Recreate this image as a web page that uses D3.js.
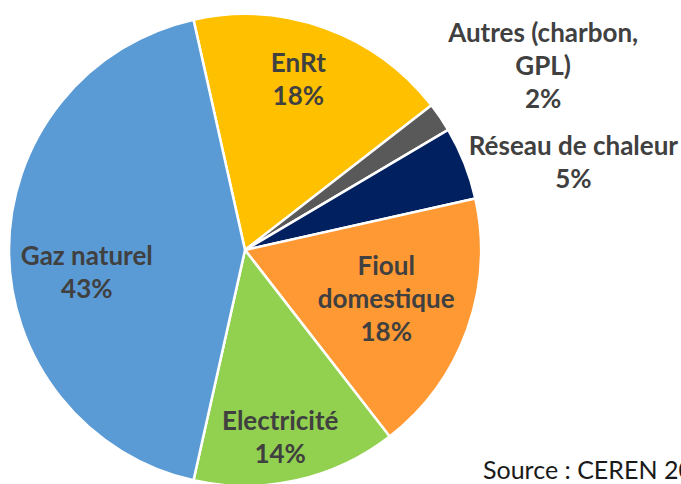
<!DOCTYPE html>
<html>
<head>
<meta charset="utf-8">
<script src="https://cdn.jsdelivr.net/npm/d3@7"></script>
<style>
  body { margin: 0; background: #fff; }
  svg { display: block; }
</style>
</head>
<body>
<div id="body"></div>
<script>
var width = 681, height = 484;

// data
let categories = ["EnRt", "Autres (charbon, GPL)", "Réseau de chaleur", "Fioul domestique", "Electricité", "Gaz naturel"];
let values = [18, 2, 5, 18, 14, 43];
let labelLines = [["EnRt"], ["Autres (charbon,", "GPL)"], ["Réseau de chaleur"], ["Fioul", "domestique"], ["Electricité"], ["Gaz naturel"]];
let colors = ["#FFC000", "#595959", "#002060", "#FF9933", "#92D050", "#5B9BD5"];

// label placement: radius factor + angle nudge (degrees) per slice
let labelK = [0.756, 1.485, 1.44, 0.634, 0.81, 0.677];
let labelNudge = [-2.4, 2.5, 6.7, -0.5, 2, -8];

var cx = 245, cy = 250, radius = 236;
var lineH = 33;

let svg = d3.select("#body").append("svg")
    .attr("width", width)
    .attr("height", height);

let g = svg.append("g").attr("transform", "translate(" + cx + "," + cy + ")");

let start = -12.6 * Math.PI / 180;
let pie = d3.pie().sort(null).value(d => d)
    .startAngle(start).endAngle(start + 2 * Math.PI);
let arcs = pie(values);

let arc = d3.arc().innerRadius(0).outerRadius(radius);

g.selectAll("path")
    .data(arcs)
    .enter()
    .append("path")
    .attr("d", arc)
    .attr("fill", (d, i) => colors[i])
    .style("stroke", "white")
    .style("stroke-width", 2.5)
    .style("stroke-linejoin", "round");

let labels = g.selectAll("text.lbl")
    .data(arcs)
    .enter()
    .append("text")
    .attr("class", "lbl")
    .attr("text-anchor", "middle")
    .style("font-family", "Lato, 'Open Sans', sans-serif")
    .style("font-weight", "bold")
    .style("font-size", "26px")
    .style("fill", "#404040")
    .each(function (d, i) {
        let a = (d.startAngle + d.endAngle) / 2 + labelNudge[i] * Math.PI / 180;
        let r = radius * labelK[i];
        let x = r * Math.sin(a), y = -r * Math.cos(a);
        let lines = labelLines[i].concat([values[i] + "%"]);
        let top = y - (lines.length - 1) * lineH / 2 + 9;
        let t = d3.select(this);
        lines.forEach((l, j) => {
            t.append("tspan").attr("x", x).attr("y", top + j * lineH).text(l);
        });
    });

// source note, cut at the right edge like the original
svg.append("text")
    .attr("x", 483)
    .attr("y", 479)
    .style("font-family", "Lato, 'Open Sans', sans-serif")
    .style("font-size", "25px")
    .style("fill", "#1a1a1a")
    .text("Source : CEREN 2018");
</script>
</body>
</html>
